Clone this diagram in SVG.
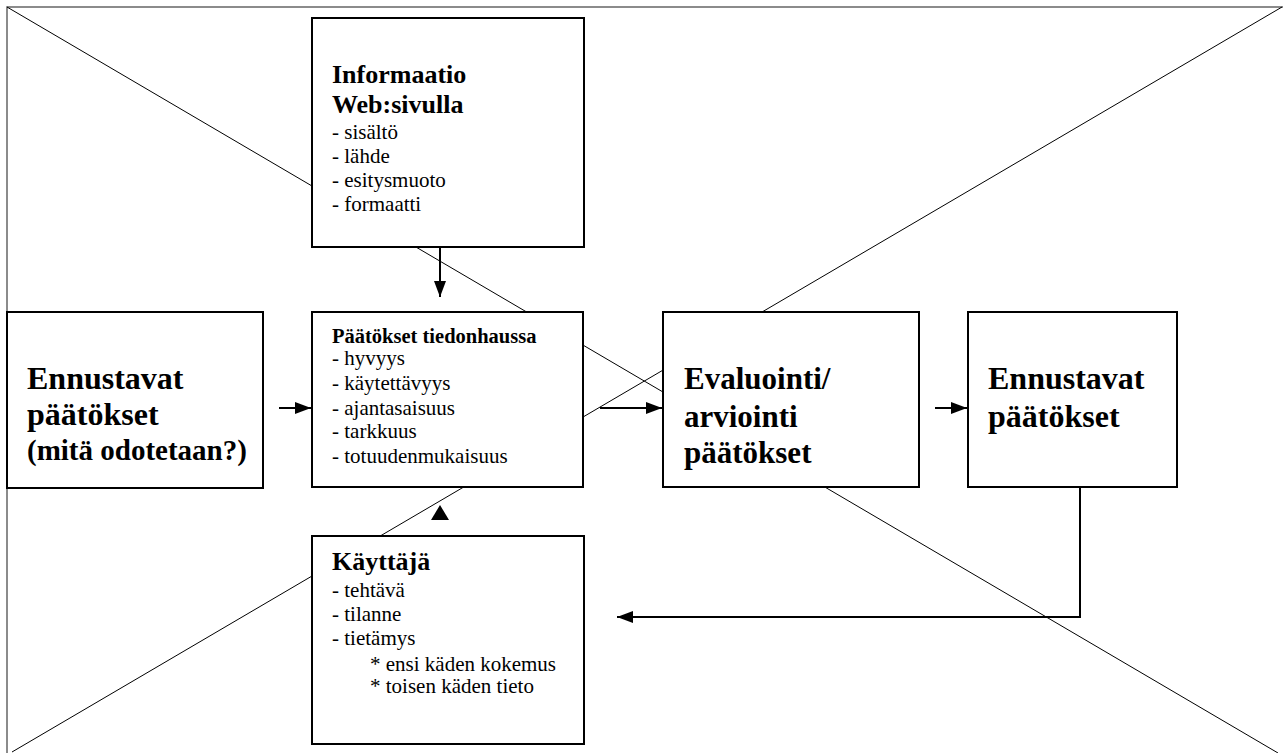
<svg xmlns="http://www.w3.org/2000/svg" width="1283" height="753" viewBox="0 0 1283 753">
<defs>
<style>
.box{fill:#fff;stroke:#000;stroke-width:2}
.frame{stroke:#666;stroke-width:1.5;fill:none}
.diag{stroke:#000;stroke-width:1;fill:none}
.conn{stroke:#000;stroke-width:2;fill:none}
.b{font-weight:bold}
.r{font-size:21px}
</style>
<marker id="ah" viewBox="0 0 16 12" refX="16" refY="6" markerWidth="16" markerHeight="12" markerUnits="userSpaceOnUse" orient="auto">
<path d="M0,0 L16,6 L0,12 Z" fill="#000"/>
</marker>
</defs>
<rect width="1283" height="753" fill="#fff"/>
<g id="background">
<path class="frame" d="M7,753 L7,7 L1283,7"/>
<line class="diag" x1="7" y1="7" x2="1278" y2="753"/>
<line class="diag" x1="1282" y1="7" x2="12" y2="752"/>
</g>
<g id="connectors">
<line class="conn" x1="440" y1="247" x2="440" y2="297" marker-end="url(#ah)"/>
<line class="conn" x1="279" y1="408" x2="311" y2="408" marker-end="url(#ah)"/>
<line class="conn" x1="600" y1="408" x2="662" y2="408" marker-end="url(#ah)"/>
<line class="conn" x1="935" y1="408" x2="967" y2="408" marker-end="url(#ah)"/>
<path d="M440,505 L449,520 L431,520 Z" fill="#000"/>
<polyline class="conn" points="1080,487 1080,617 617,617" marker-end="url(#ah)"/>
</g>
<g font-family="'Liberation Serif','Times New Roman','DejaVu Serif',serif" fill="#000">
<g id="info">
<rect class="box" x="312" y="18" width="272" height="229"/>
<text class="b" x="332" y="83" font-size="26">Informaatio</text>
<text class="b" x="332" y="113" font-size="26">Web:sivulla</text>
<text class="r" x="332" y="139">- sisältö</text>
<text class="r" x="332" y="163">- lähde</text>
<text class="r" x="332" y="187">- esitysmuoto</text>
<text class="r" x="332" y="211">- formaatti</text>
</g>
<g id="ennustavat-left">
<rect class="box" x="7" y="312" width="256" height="176"/>
<text class="b" x="27" y="389" font-size="32">Ennustavat</text>
<text class="b" x="27" y="425" font-size="32">päätökset</text>
<text class="b" x="27" y="460" font-size="29">(mitä odotetaan?)</text>
</g>
<g id="paatokset">
<rect class="box" x="312" y="312" width="271" height="175"/>
<text class="b" x="332" y="343" font-size="20.5">Päätökset tiedonhaussa</text>
<text class="r" x="332" y="365">- hyvyys</text>
<text class="r" x="332" y="390">- käytettävyys</text>
<text class="r" x="332" y="415">- ajantasaisuus</text>
<text class="r" x="332" y="438">- tarkkuus</text>
<text class="r" x="332" y="463">- totuudenmukaisuus</text>
</g>
<g id="evaluointi">
<rect class="box" x="663" y="312" width="256" height="175"/>
<text class="b" x="684" y="389" font-size="31">Evaluointi/</text>
<text class="b" x="684" y="427" font-size="31">arviointi</text>
<text class="b" x="684" y="463" font-size="31">päätökset</text>
</g>
<g id="ennustavat-right">
<rect class="box" x="968" y="312" width="209" height="175"/>
<text class="b" x="988" y="389" font-size="32">Ennustavat</text>
<text class="b" x="988" y="427" font-size="32">päätökset</text>
</g>
<g id="kayttaja">
<rect class="box" x="312" y="536" width="272" height="208"/>
<text class="b" x="332" y="570" font-size="26">Käyttäjä</text>
<text class="r" x="332" y="597">- tehtävä</text>
<text class="r" x="332" y="621">- tilanne</text>
<text class="r" x="332" y="645">- tietämys</text>
<text class="r" x="370" y="671">* ensi käden kokemus</text>
<text class="r" x="370" y="693">* toisen käden tieto</text>
</g>
</g>
</svg>
